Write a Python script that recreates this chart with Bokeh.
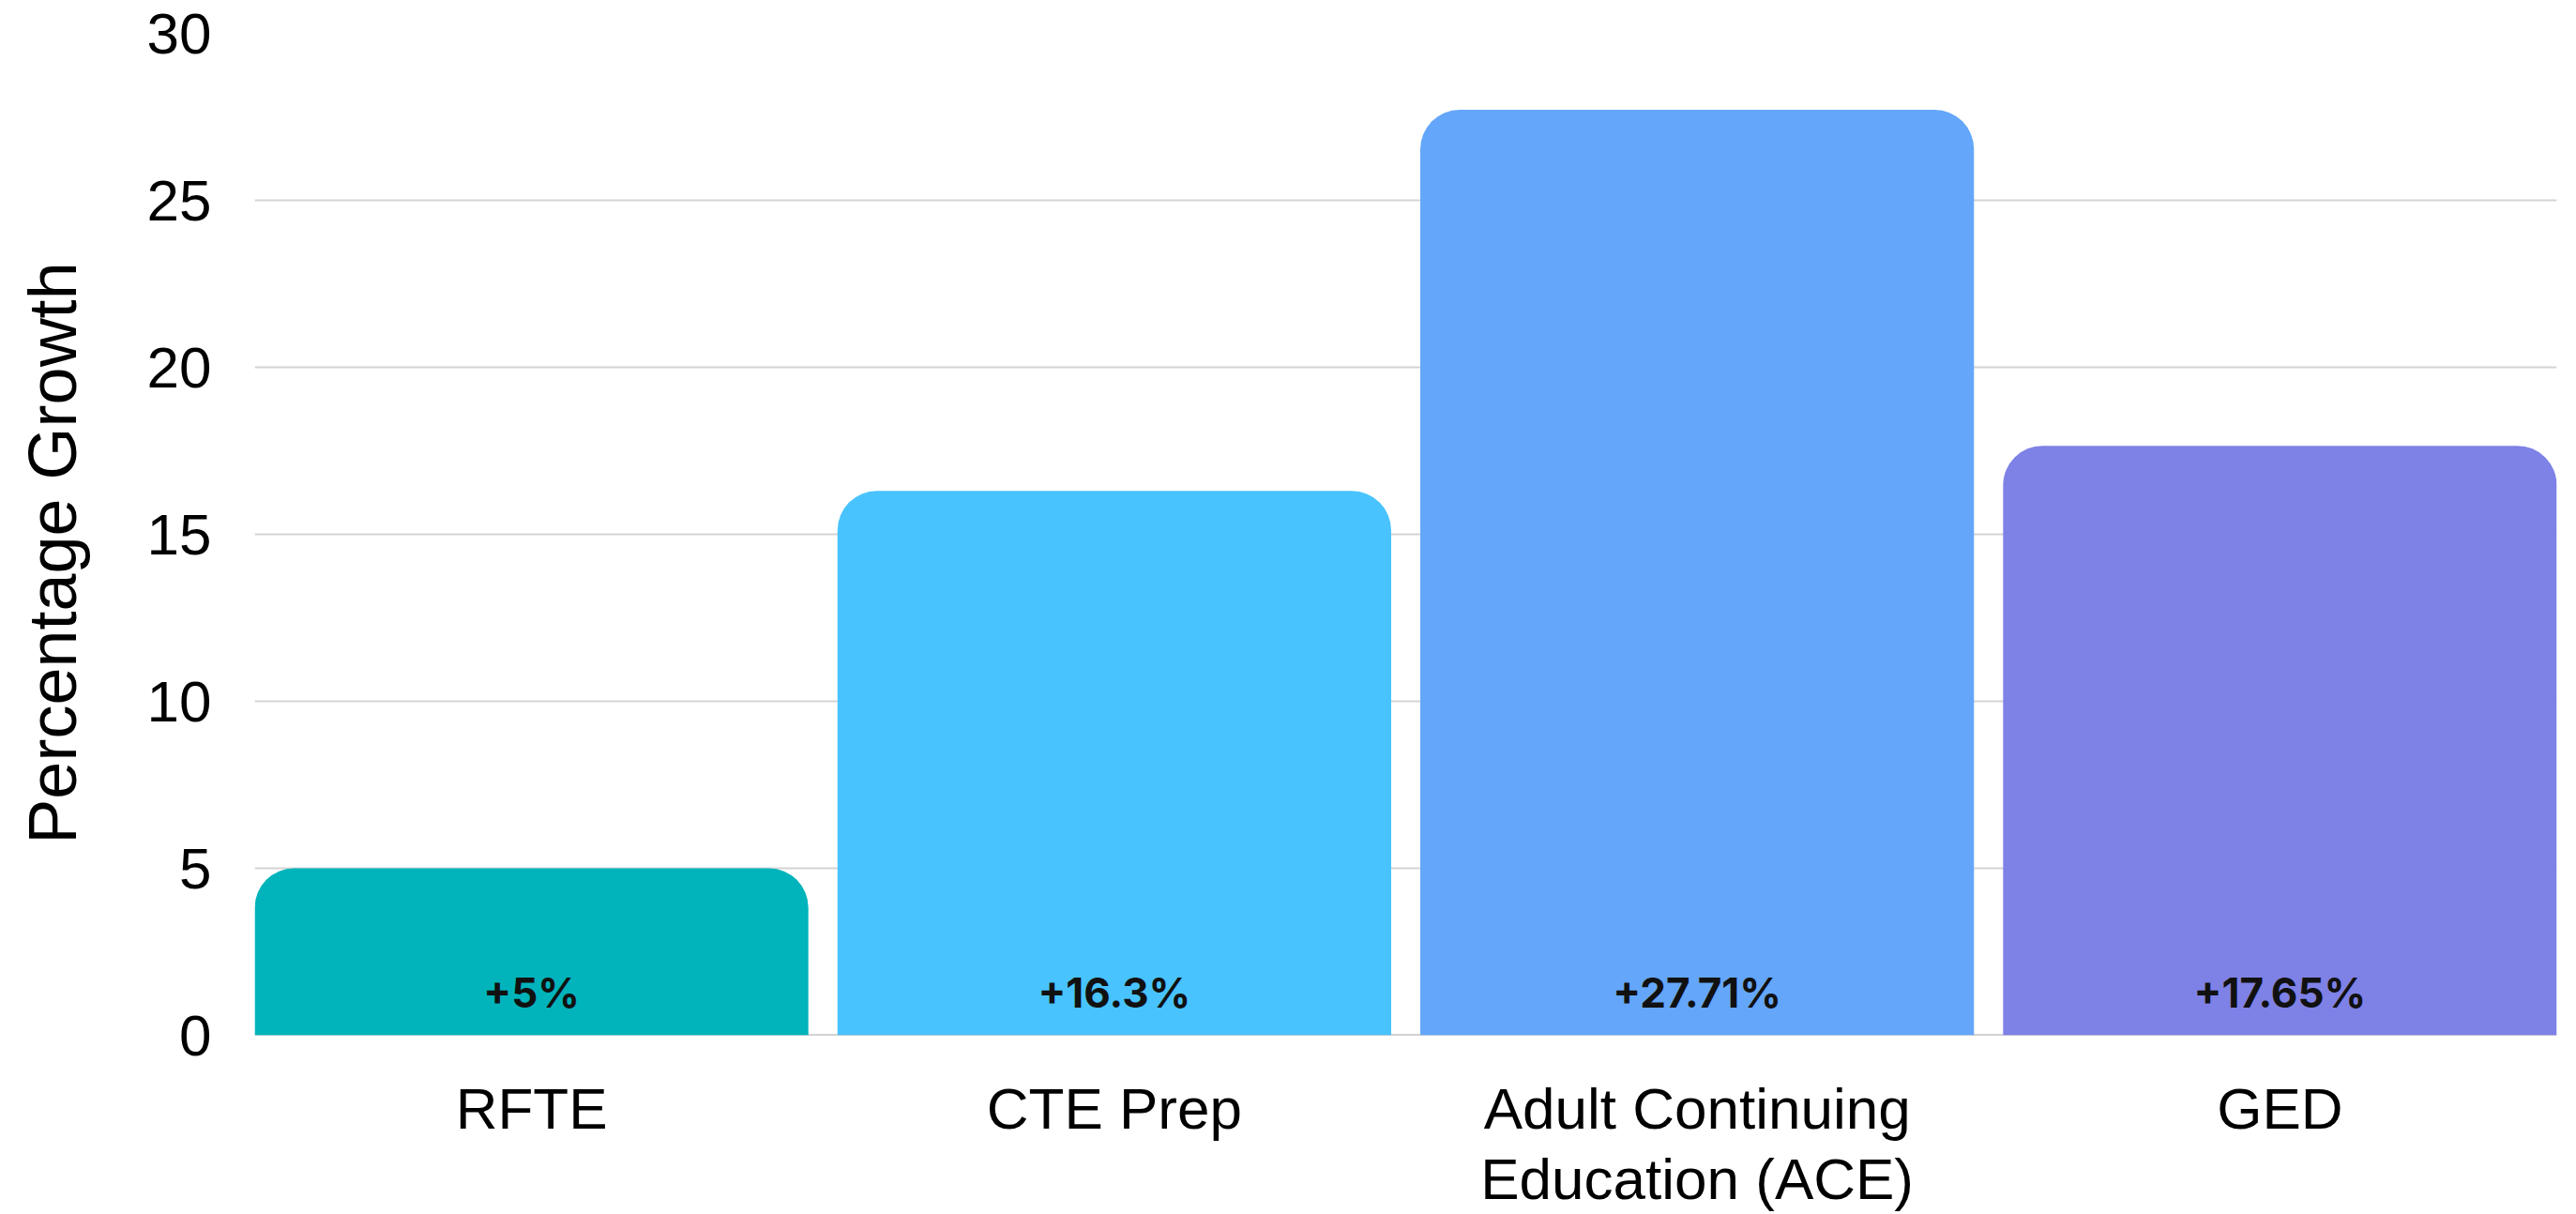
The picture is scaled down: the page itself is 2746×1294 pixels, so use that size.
from bokeh.plotting import figure
from bokeh.models import ColumnDataSource, Range1d, FixedTicker, Span
from bokeh.core.properties import value
from bokeh.embed import file_html
from bokeh.resources import INLINE

# ---- data ----
categories = ["RFTE", "CTE Prep", "Adult Continuing\nEducation (ACE)", "GED"]
growth = [5.0, 16.3, 27.71, 17.65]
labels = ["+5%", "+16.3%", "+27.71%", "+17.65%"]
colors = ["#01B3BB", "#48C3FE", "#64A6F9", "#7E81E6"]
y_ticks = [0, 5, 10, 15, 20, 25, 30]
y_title = "Percentage Growth"

xs = list(range(len(categories)))
src = ColumnDataSource(dict(x=xs, top=growth, lab=labels, color=colors))

p = figure(width=2746, height=1294, output_backend="svg", toolbar_location=None,
           x_range=Range1d(-0.475, len(categories) - 1 + 0.475),
           y_range=Range1d(0, 30),
           min_border_left=271, min_border_top=35, min_border_bottom=187,
           min_border_right=21)
p.outline_line_color = None
p.background_fill_color = "white"
p.border_fill_color = "white"

p.vbar(x="x", top="top", bottom=0, width=0.95, color="color", source=src,
       line_color=None, border_radius=[42, 42, 0, 0])

p.add_layout(Span(location=0, dimension="width", line_color="#a6a6a6",
                  line_width=2, level="underlay"))

p.text(x="x", y=0, text="lab", source=src, text_align="center",
       text_baseline="middle", y_offset=-46, text_font=value("Inter"),
       text_font_style="bold", text_font_size="44px", text_color="#111111")

# axes
p.xaxis.ticker = FixedTicker(ticks=xs)
p.xaxis.major_label_overrides = {i: c for i, c in zip(xs, categories)}
p.xaxis.axis_line_color = None
p.xaxis.major_tick_line_color = None
p.xaxis.minor_tick_line_color = None
p.xaxis.major_label_text_font = "Liberation Sans"
p.xaxis.major_label_text_font_size = "62px"
p.xaxis.major_label_text_line_height = 1.1
p.xaxis.major_label_text_color = "black"
p.xaxis.major_label_standoff = 37

p.yaxis.ticker = FixedTicker(ticks=y_ticks)
p.yaxis.axis_line_color = None
p.yaxis.major_tick_line_color = None
p.yaxis.minor_tick_line_color = None
p.yaxis.major_label_text_font = "Liberation Sans"
p.yaxis.major_label_text_font_size = "62px"
p.yaxis.major_label_text_color = "black"
p.yaxis.major_label_standoff = 40
p.yaxis.axis_label = y_title + "\u00a0\u00a0"
p.yaxis.axis_label_text_font = "Liberation Sans"
p.yaxis.axis_label_text_font_size = "72px"
p.yaxis.axis_label_text_font_style = "normal"
p.yaxis.axis_label_text_color = "black"
p.yaxis.axis_label_standoff = 58

p.xgrid.grid_line_color = None
p.ygrid.grid_line_color = "#d4d4d4"
p.ygrid.grid_line_width = 2

open("out.html", "w").write(file_html(p, INLINE))
